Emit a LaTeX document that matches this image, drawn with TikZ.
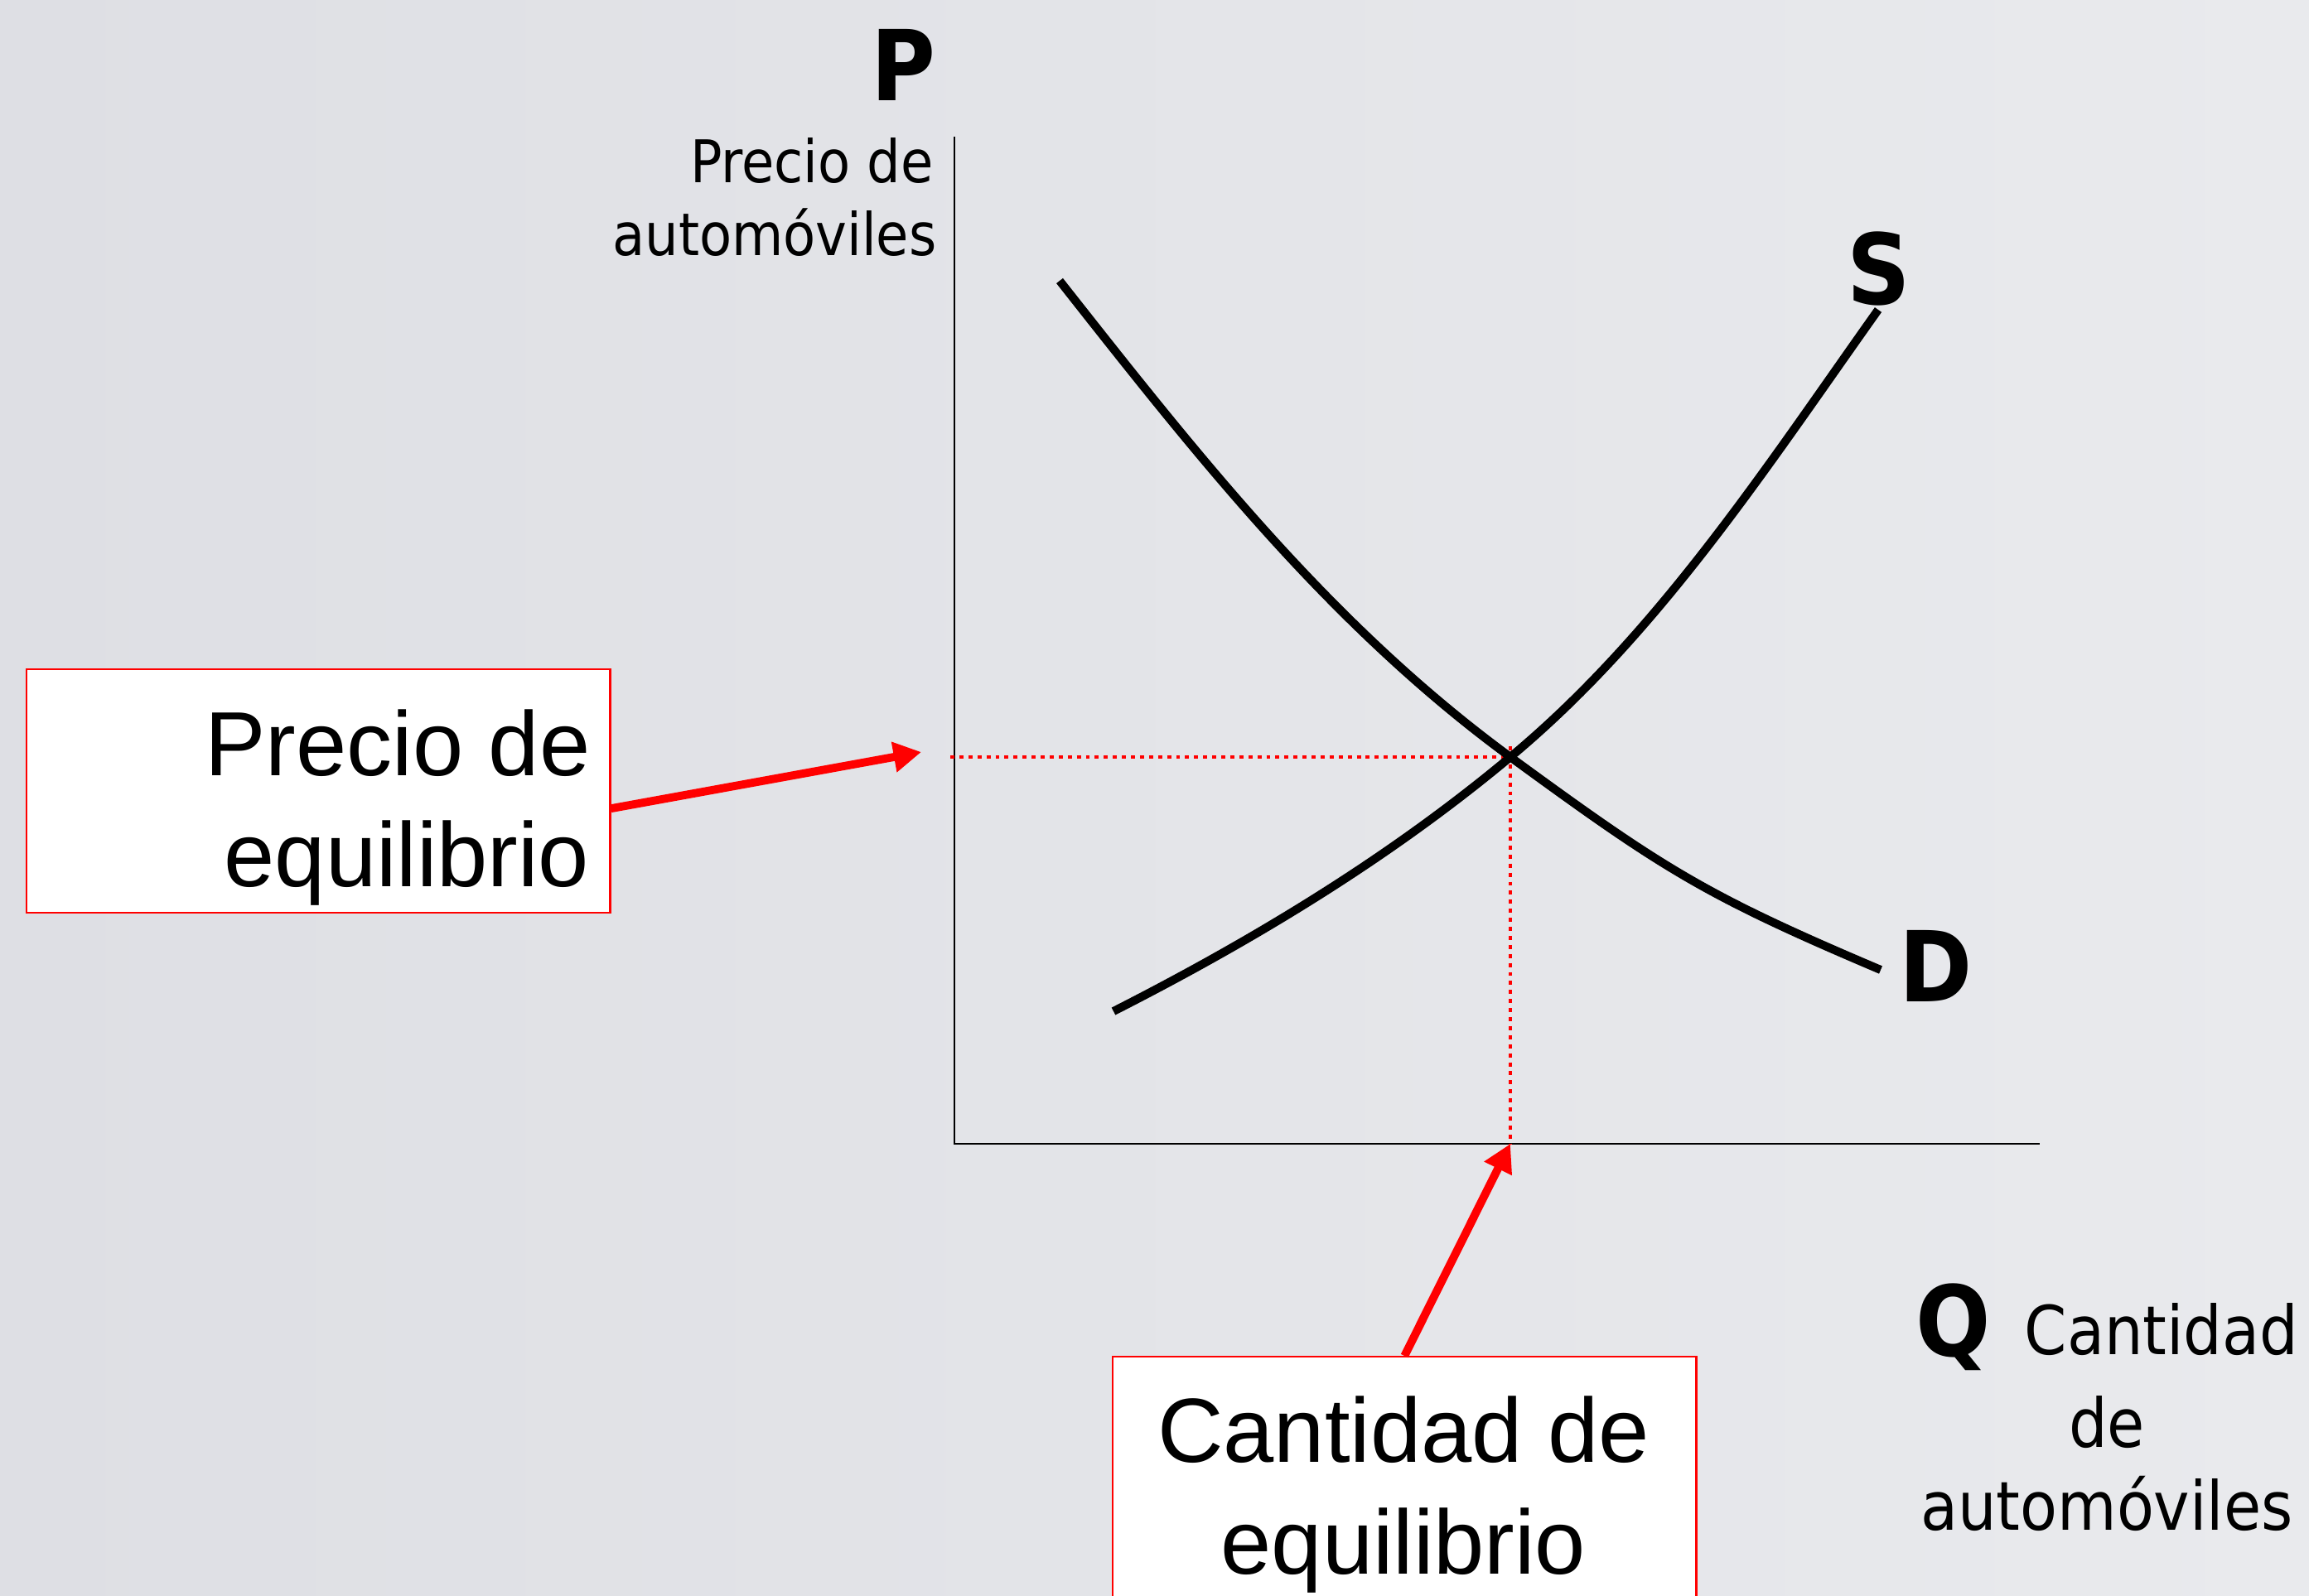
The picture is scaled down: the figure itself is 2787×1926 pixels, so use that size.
\documentclass[tikz,border=0pt]{standalone}
\usepackage{fontspec}
\setmainfont{Liberation Sans}
\newfontfamily\tah{DejaVu Sans Condensed}
\usetikzlibrary{arrows.meta}
\definecolor{bgL}{RGB}{222,223,228}
\definecolor{bgR}{RGB}{233,234,237}
\definecolor{pred}{RGB}{255,0,0}
\tikzset{
  curve/.style={line width=2.85pt, black},
  axis/.style={line width=0.75pt, black},
  guide/.style={pred, line width=1.4pt, dash pattern=on 1.4pt off 1.7pt},
  pointer/.style={pred, line width=2.8pt, -{Triangle[length=9.5pt,width=10pt]}},
  infobox/.style={draw=pred, line width=0.6pt, fill=white, inner sep=0pt},
  boxtxt/.style={inner sep=0pt, anchor=base, font=\fontsize{31.3pt}{37pt}\selectfont},
  axtxt/.style={inner sep=0pt, anchor=base, font=\tah\fontsize{20.2pt}{24pt}\selectfont},
  qtxt/.style={inner sep=0pt, anchor=base, font=\tah\fontsize{23.2pt}{28pt}\selectfont},
  biglab/.style={inner sep=0pt, anchor=base, font=\tah\bfseries\fontsize{33.6pt}{40pt}\selectfont},
}
\begin{document}
\begin{tikzpicture}[x=0.01cm, y=-0.01cm]
\useasboundingbox (0,0) rectangle (2787,1926);
\clip (0,0) rectangle (2787,1926);
\shade[left color=bgL, right color=bgR] (0,0) rectangle (2787,1926);

% axes
\coordinate (ytop) at (1152,165);
\coordinate (orig) at (1152,1381);
\coordinate (xend) at (2462,1381);
\draw[axis] (ytop) -- (orig) -- (xend);

% equilibrium
\coordinate (eq) at (1823,914);
\coordinate (hstart) at (1147,914);
\coordinate (vtop) at (1823,901);
\coordinate (qeq) at (1823,1381);
\draw[guide] (hstart) -- (eq);
\draw[guide] (vtop) -- (qeq);

% demand
\coordinate (d0) at (1279,339);
\coordinate (d1) at (2270,1171);
\draw[curve] (d0) .. controls (1446,551) and (1605,754) .. (eq)
  .. controls (2009,1050) and (2058,1081) .. (d1);
% supply
\coordinate (s0) at (1344,1221);
\coordinate (s1) at (2267,374);
\draw[curve] (s0) .. controls (1513,1135) and (1677,1036) .. (eq)
  .. controls (2002,765) and (2132,564) .. (s1);

% axis labels
\node[biglab] (Plab) at (1090,121) {P};
\node[axtxt] (ylab1) at (980,220) {Precio de};
\node[axtxt] (ylab2) at (935,308) {automóviles};
\node[biglab] (Slab) at (2268,367) {S};
\node[biglab] (Dlab) at (2337,1209) {D};
\node[biglab] (Qlab) at (2358,1637) {Q};
\node[qtxt] (xlab1) at (2609,1635) {Cantidad};
\node[qtxt] (xlab2) at (2543,1747) {de};
\node[qtxt] (xlab3) at (2543,1847) {automóviles};

% boxes
\node[infobox, minimum width=7.04cm, minimum height=2.94cm, anchor=north west] (pbox) at (31,807) {};
\node[boxtxt] (pbox1) at (480,936) {Precio de};
\node[boxtxt] (pbox2) at (491,1070) {equilibrio};

\node[infobox, minimum width=7.04cm, minimum height=3.6cm, anchor=north west] (qbox) at (1342,1637) {};
\node[boxtxt] (qbox1) at (1694,1765) {Cantidad de};
\node[boxtxt] (qbox2) at (1694,1900) {equilibrio};

% pointers
\coordinate (ptip) at (1112,908);
\draw[pointer] ([yshift=-0.21cm]pbox.east) -- (ptip);
\draw[pointer] (qbox.north) -- (qeq);
\end{tikzpicture}
\end{document}
